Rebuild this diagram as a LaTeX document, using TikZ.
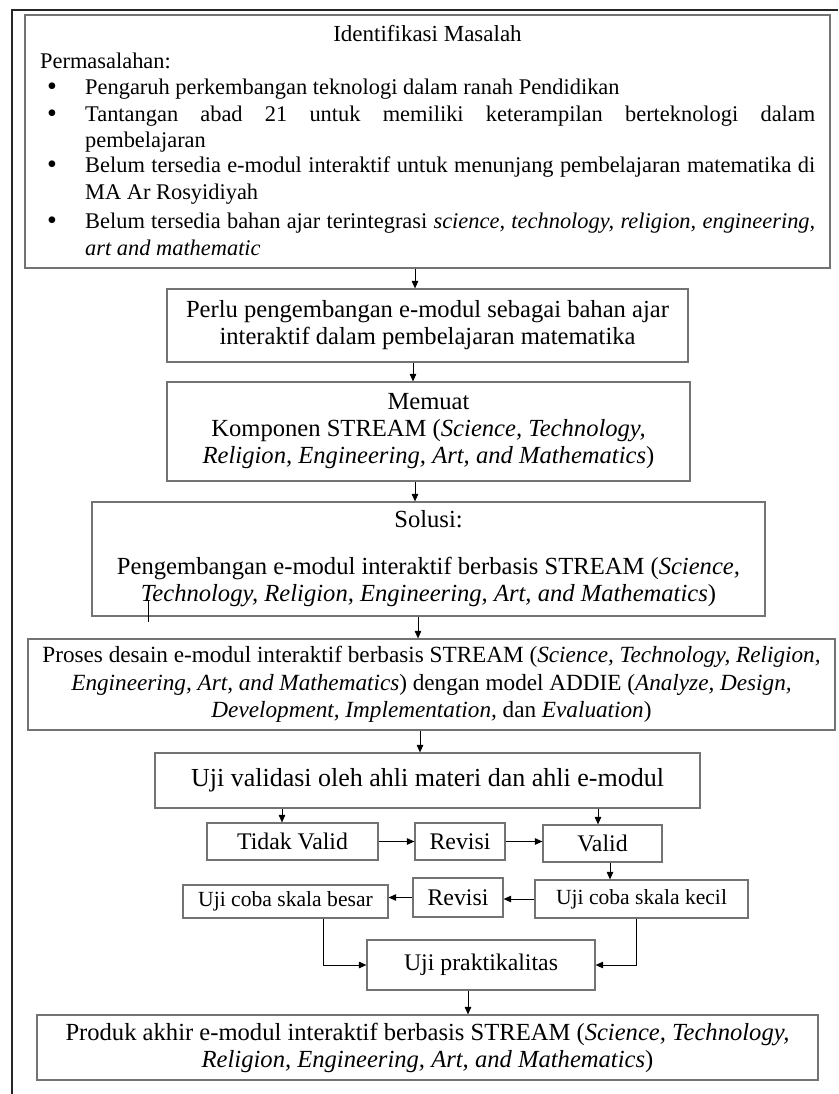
\documentclass[tikz,border=0pt]{standalone}
\usepackage{fontspec}
\setmainfont{Liberation Serif}
\usetikzlibrary{arrows.meta,shadows}
\newcommand{\myfs}[2]{\fontsize{#1}{#2}\selectfont}
\begin{document}
\begin{tikzpicture}[x=1pt,y=-1pt,
  box/.style={draw=black!55, line width=1.2pt, fill=white,
    drop shadow={shadow xshift=1.4pt,shadow yshift=-1.4pt,fill=black!75,opacity=1},
    inner sep=0pt, align=center},
  big/.style={font=\myfs{24.6}{27}},
  mid/.style={font=\myfs{23.8}{27}},
  small/.style={font=\myfs{21.6}{24}},
  lst/.style={font=\myfs{22.4}{26.5}, inner sep=0pt, anchor=base west},
  bul/.style={font=\myfs{28}{26.5}, inner sep=0pt, anchor=base},
  arr/.style={-{Triangle[length=7.5pt,width=6.5pt]}, line width=0.9pt},
  frame/.style={line width=1.6pt, draw=black!85}
]
\useasboundingbox (0,0) rectangle (838,1094);
\draw[frame] (12,1094) -- (12,10) -- (838,10);

% Box 1
\node[box, minimum width=805pt, minimum height=253pt] (b1) at (427.5,141.5) {};
\node[lst, anchor=base, font=\myfs{23}{26.5}] (t0) at (427.5,42) {Identifikasi Masalah};
\node[lst] (t1) at (40,69) {Permasalahan:};
\node[bul] (u1) at (52,96) {\textbullet};
\node[lst] (l1) at (85,95) {Pengaruh perkembangan teknologi dalam ranah Pendidikan};
\node[bul] (u2) at (52,123) {\textbullet};
\node[lst] (l2) at (85,122) {\makebox[730pt][s]{Tantangan abad 21 untuk memiliki keterampilan berteknologi dalam}};
\node[lst] (l3) at (85,148) {pembelajaran};
\node[bul] (u3) at (52,174) {\textbullet};
\node[lst] (l4) at (85,173) {\makebox[730pt][s]{Belum tersedia e-modul interaktif untuk menunjang pembelajaran matematika di}};
\node[lst] (l5) at (85,200) {MA Ar Rosyidiyah};
\node[bul] (u4) at (52,229) {\textbullet};
\node[lst] (l6) at (85,228) {\makebox[730pt][s]{Belum tersedia bahan ajar terintegrasi \textit{science, technology, religion, engineering,}}};
\node[lst] (l7) at (85,255) {\textit{art and mathematic}};

% Main chain
\node[box, big, minimum width=521pt, minimum height=73pt] (b2) at (427.5,325.5)
  {Perlu pengembangan e-modul sebagai bahan ajar\\interaktif dalam pembelajaran matematika};
\node[box, big, minimum width=523pt, minimum height=99pt] (b3) at (428.5,431.5)
  {Memuat\\Komponen STREAM (\textit{Science, Technology,}\\\textit{Religion, Engineering, Art, and Mathematics})};
\node[box, big, minimum width=673pt, minimum height=114pt] (b4) at (428.5,559)
  {Solusi:\\[20pt]Pengembangan e-modul interaktif berbasis STREAM (\textit{Science,}\\\textit{Technology, Religion, Engineering, Art, and Mathematics})};
\node[box, font=\myfs{23.2}{27.5}, minimum width=807pt, minimum height=91pt] (b5) at (431.5,684.5)
  {Proses desain e-modul interaktif berbasis STREAM (\textit{Science, Technology, Religion,}\\\textit{Engineering, Art, and Mathematics}) dengan model ADDIE (\textit{Analyze, Design,}\\\textit{Development, Implementation,} dan \textit{Evaluation})};
\node[box, font=\myfs{26}{27}, minimum width=545pt, minimum height=55pt] (b6) at (427.5,780.5)
  {Uji validasi oleh ahli materi dan ahli e-modul};
\node[box, mid, minimum width=171pt, minimum height=37pt] (tv) at (292.5,841.5) {Tidak Valid};
\node[box, mid, minimum width=90pt, minimum height=37pt] (rv1) at (460,841.5) {Revisi};
\node[box, mid, minimum width=119pt, minimum height=37pt] (vl) at (602.5,843.5) {Valid};
\node[box, small, minimum width=213pt, minimum height=38pt] (kecil) at (641.5,899) {Uji coba skala kecil};
\node[box, mid, minimum width=90pt, minimum height=39pt] (rv2) at (458,897.5) {Revisi};
\node[box, small, minimum width=205pt, minimum height=33pt] (besar) at (285.5,901.5) {Uji coba skala besar};
\node[box, mid, minimum width=228pt, minimum height=50pt] (prak) at (481,965) {Uji praktikalitas};
\node[box, big, minimum width=781pt, minimum height=65pt] (fin) at (427.5,1047.5)
  {Produk akhir e-modul interaktif berbasis STREAM (\textit{Science, Technology,}\\\textit{Religion, Engineering, Art, and Mathematics})};

% stray tick
\draw[line width=1pt] (148,600) -- (148,622);

% connector x positions
\coordinate (x1) at (415,0);
\coordinate (x2) at (413,0);
\coordinate (x3) at (415,0);
\coordinate (x4) at (418,0);
\coordinate (x5) at (420,0);
\coordinate (x6) at (282,0);
\coordinate (x7) at (598,0);
\coordinate (x9) at (610,0);
\coordinate (x12) at (323,0);
\coordinate (x13) at (636,0);
\coordinate (x14) at (468,0);

\draw[arr] (b1.south -| x1) -- (b2.north -| x1);
\draw[arr] (b2.south -| x2) -- (b3.north -| x2);
\draw[arr] (b3.south -| x3) -- (b4.north -| x3);
\draw[arr] (b4.south -| x4) -- (b5.north -| x4);
\draw[arr] (b5.south -| x5) -- (b6.north -| x5);
\draw[arr] (b6.south -| x6) -- (tv.north -| x6);
\draw[arr] (b6.south -| x7) -- (vl.north -| x7);
\draw[arr] (tv.east) -- (rv1.west);
\draw[arr] (rv1.east) -- (vl.west |- rv1.east);
\draw[arr] (vl.south -| x9) -- (kecil.north -| x9);
\draw[arr] (kecil.west) -- (rv2.east |- kecil.west);
\draw[arr] (rv2.west) -- (besar.east |- rv2.west);
\draw[arr] (besar.south -| x12) |- (prak.west);
\draw[arr] (kecil.south -| x13) |- (prak.east);
\draw[arr] (prak.south -| x14) -- (fin.north -| x14);
\end{tikzpicture}
\end{document}
